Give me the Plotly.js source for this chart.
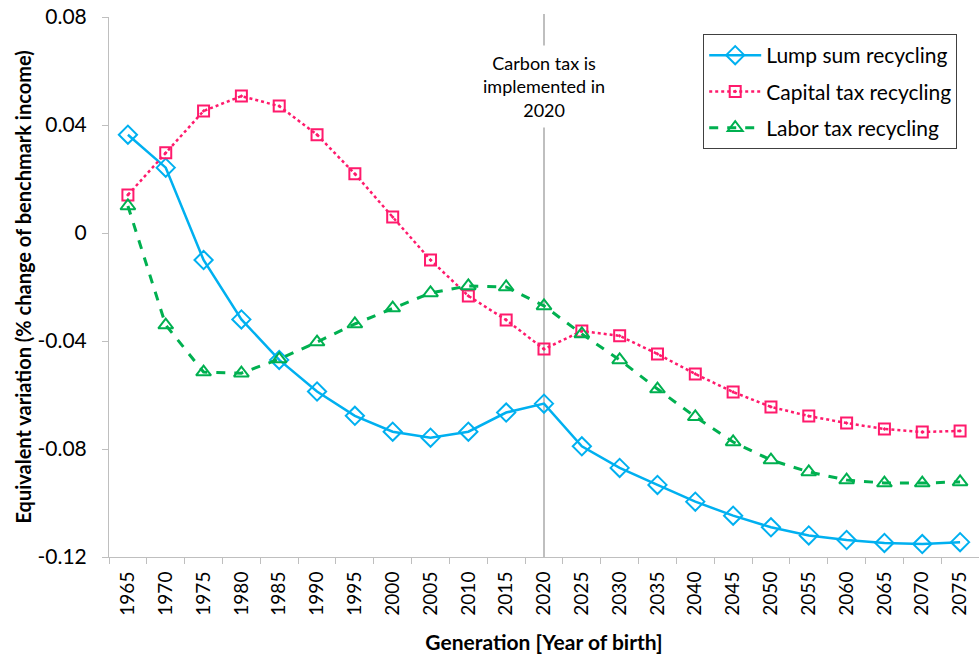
<!DOCTYPE html>
<html>
<head>
<meta charset="utf-8">
<script src="https://cdn.plot.ly/plotly-3.0.1.min.js"></script>
<style>html,body{margin:0;padding:0;background:#fff;}#chart{width:979px;height:657px;}</style>
</head>
<body>
<div id="chart"></div>
<script>
const years = ["1965","1970","1975","1980","1985","1990","1995","2000","2005","2010","2015","2020","2025","2030","2035","2040","2045","2050","2055","2060","2065","2070","2075"];
const lumpSum = [0.0364,0.0242,-0.0100,-0.0320,-0.0470,-0.0587,-0.0677,-0.0736,-0.0758,-0.0736,-0.0665,-0.0632,-0.0790,-0.0870,-0.0933,-0.0995,-0.1047,-0.1090,-0.1120,-0.1137,-0.1148,-0.1152,-0.1145];
const capitalTax = [0.0141,0.0297,0.0452,0.0507,0.0470,0.0364,0.0219,0.0059,-0.0100,-0.0233,-0.0322,-0.0430,-0.0363,-0.0381,-0.0448,-0.0522,-0.0589,-0.0644,-0.0678,-0.0704,-0.0726,-0.0737,-0.0733];
const laborTax = [0.0100,-0.0341,-0.0515,-0.0519,-0.0467,-0.0404,-0.0337,-0.0278,-0.0222,-0.0196,-0.0200,-0.0270,-0.0374,-0.0470,-0.0578,-0.0681,-0.0774,-0.0841,-0.0885,-0.0915,-0.0926,-0.0926,-0.0922];
const seriesNames = ["Lump sum recycling","Capital tax recycling","Labor tax recycling"];
const yTicks = [-0.12,-0.08,-0.04,0,0.04,0.08];
const yTickText = ["-0.12","-0.08","-0.04","0","0.04","0.08"];
const eventYear = "2020";
const eventText = "Carbon tax is<br>implemented in<br>2020";
const eventIndex = years.indexOf(eventYear);

const FONT = "Lato, 'Open Sans', sans-serif";

const traces = [
  {x: years, y: lumpSum, name: seriesNames[0], type: "scatter", mode: "lines+markers", legendgroup: "a",
   line: {color: "#00B0F0", width: 2.5},
   marker: {symbol: "diamond-open", size: 14, color: "#00B0F0", line: {width: 2, color: "#00B0F0"}}},
  {x: years, y: capitalTax, name: seriesNames[1], type: "scatter", mode: "lines+markers", legendgroup: "b",
   line: {color: "#FF1A6C", width: 2.5, dash: "dot"},
   marker: {symbol: "square-open-dot", size: 11, color: "#FF1A6C", line: {width: 2, color: "#FF1A6C"}}},
  {x: years, y: laborTax, name: seriesNames[2], type: "scatter", mode: "lines+markers", legendgroup: "c",
   line: {color: "#00B050", width: 3, dash: "dash"},
   marker: {symbol: "triangle-up-open", size: 13, color: "#00B050", line: {width: 2, color: "#00B050"}}}
];

const layout = {
  width: 979, height: 657,
  margin: {l: 109, r: 0, t: 17, b: 100},
  paper_bgcolor: "#fff", plot_bgcolor: "#fff",
  font: {family: FONT, color: "#000"},
  showlegend: true,
  legend: {x: 0.683, y: 0.9685, xanchor: "left", yanchor: "top",
           bordercolor: "#404040", borderwidth: 1, bgcolor: "#fff",
           font: {family: FONT, size: 21, color: "#000"},
           tracegroupgap: 6, itemwidth: 52},
  xaxis: {type: "category", range: [-0.5, 22.5], showgrid: false, zeroline: false,
          showline: true, linecolor: "#BFBFBF", linewidth: 1,
          ticks: "outside", tickson: "boundaries", ticklen: 6, tickcolor: "#BFBFBF",
          tickangle: -90, tickfont: {family: FONT, size: 19, color: "#000"},
          ticklabelstandoff: 6,
          title: {text: "<b>Generation [Year of birth]</b>", font: {family: FONT, size: 21, color: "#000"}, standoff: 20}},
  yaxis: {range: [-0.12, 0.08], tickvals: yTicks, ticktext: yTickText, showgrid: false, zeroline: false,
          showline: true, linecolor: "#BFBFBF", linewidth: 1,
          ticks: "outside", ticklen: 6, tickcolor: "#BFBFBF",
          tickfont: {family: FONT, size: 21, color: "#000"}, ticklabelstandoff: 11,
          title: {text: "<b>Equivalent variation (% change of benchmark income)</b>", font: {family: FONT, size: 20, color: "#000"}, standoff: 0}},
  shapes: [{type: "line", xref: "x", yref: "paper", x0: eventIndex, x1: eventIndex, y0: 0, y1: 1.0056,
            line: {color: "#BFBFBF", width: 2}, layer: "below"}],
  annotations: [{xref: "x", yref: "paper", x: eventIndex, y: 0.872, xanchor: "center", yanchor: "middle",
                 text: eventText, showarrow: false,
                 font: {family: FONT, size: 18, color: "#000"}, bgcolor: "#fff", borderpad: 6, align: "center"}]
};

Plotly.newPlot("chart", traces, layout, {displayModeBar: false, responsive: false});
</script>
</body>
</html>
